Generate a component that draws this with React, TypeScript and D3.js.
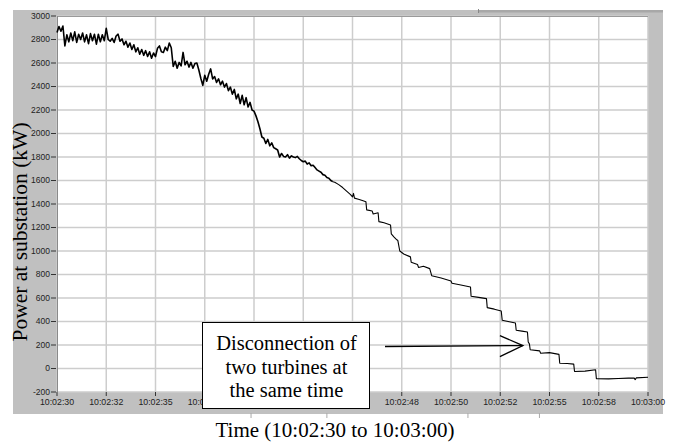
import React from "react";
import * as d3 from "d3";

// ---- Data ----
// Noisy first part: samples every 0.1 s from 10:02:30
const noisyIntervalSec = 0.1;
const noisyPowerKW = [
  2860, 2910, 2870, 2915, 2745, 2840, 2780, 2855, 2790, 2865,
  2775, 2845, 2800, 2855, 2780, 2840, 2765, 2850, 2790, 2845,
  2760, 2845, 2780, 2840, 2790, 2895, 2800, 2785, 2810, 2775,
  2830, 2845, 2785, 2805, 2755, 2785, 2735, 2770, 2715, 2755,
  2695, 2730, 2675, 2715, 2665, 2705, 2655, 2695, 2640, 2685,
  2655, 2725, 2745, 2695, 2690, 2735, 2705, 2770, 2730, 2570,
  2615, 2555, 2605, 2575, 2690, 2585, 2615, 2565, 2605, 2555,
  2595, 2600, 2540, 2470, 2410, 2495, 2445, 2505, 2550, 2465,
  2485, 2435, 2465, 2415, 2445, 2395, 2425, 2365, 2395, 2335,
  2375, 2295, 2335, 2255, 2325, 2245, 2305, 2225, 2265, 2200,
  2190, 2150, 2100, 2040, 1970, 1960, 1915, 1950, 1895, 1920,
  1880, 1870, 1860, 1800, 1830, 1805, 1800, 1820, 1790, 1810,
  1800, 1795, 1805, 1785, 1770, 1760, 1765, 1740, 1750, 1725,
  1730, 1710, 1690, 1680, 1670, 1650, 1645, 1625, 1620, 1600,
  1590,
];

// Stepped second part
const stepTimesSec = [
  14.1, 14.3, 14.5, 14.7, 14.9, 15.0, 15.05, 15.1, 15.3, 15.5, 15.68,
  15.72, 16.0, 16.05, 16.3, 16.34, 16.6, 16.93, 16.97, 17.1, 17.25,
  17.3, 17.4, 17.6, 17.94, 17.98, 18.3, 18.35, 18.6, 18.92, 19.02,
  19.5, 20.0, 20.05, 20.5, 20.99, 21.02, 21.4, 21.8, 21.84, 22.2,
  22.55, 22.6, 22.9, 23.27, 23.31, 23.6, 23.88, 23.92, 23.98, 24.02,
  24.5, 24.55, 25.0, 25.48, 25.52, 25.9, 26.23, 26.27, 26.8, 27.34,
  27.38, 28.0, 28.5, 29.0, 29.3, 29.35, 29.4, 30.0,
];
const stepPowerKW = [
  1585, 1565, 1540, 1510, 1480, 1460, 1490, 1450, 1440, 1430, 1420,
  1350, 1340, 1315, 1325, 1250, 1240, 1222, 1145, 1120, 1095,
  1090, 1000, 975, 950, 905, 885, 860, 870, 850, 790,
  770, 745, 725, 710, 694, 615, 605, 595, 518, 505,
  489, 410, 400, 387, 325, 318, 310, 225, 210, 160,
  150, 130, 135, 120, 45, 42, 37, -25, -22, -11,
  -87, -88, -85, -82, -82, -95, -80, -75,
];

// Axes
const xTickSeconds = [0, 2.5, 5, 7.5, 10, 12.5, 15, 17.5, 20, 22.5, 25, 27.5, 30];
const xTickLabels = [
  "10:02:30", "10:02:32", "10:02:35", "10:02:38", "10:02:40", "10:02:42",
  "10:02:45", "10:02:48", "10:02:50", "10:02:52", "10:02:55", "10:02:58", "10:03:00",
];
const yTickValues = [-200, 0, 200, 400, 600, 800, 1000, 1200, 1400, 1600, 1800, 2000, 2200, 2400, 2600, 2800, 3000];

const xTitle = "Time (10:02:30 to 10:03:00)";
const yTitle = "Power at substation (kW)";
const annotationLines = ["Disconnection of", "two turbines at", "the same time"];
const annotationTargetSec = 23.65;
const annotationTargetKW = 195;
const cursorMarkSeconds = [9.85, 13.7, 20.86, 24.49];

export default function App() {
  const W = 680, H = 443;
  const frame = { x: 13, y: 10, r: 663, b: 414 };
  const plot = { l: 57, t: 16, r: 648, b: 392 };

  const x = d3.scaleLinear().domain([0, 30]).range([plot.l, plot.r]);
  const y = d3.scaleLinear().domain([-200, 3000]).range([plot.b, plot.t]);

  const noisy: [number, number][] = noisyPowerKW.map((v, i) => [i * noisyIntervalSec, v]);
  const stepped: [number, number][] = [
    noisy[noisy.length - 1],
    ...stepTimesSec.map((t, i) => [t, stepPowerKW[i]] as [number, number]),
  ];
  const line = d3.line<[number, number]>().x((d) => x(d[0])).y((d) => y(d[1]));

  const tipX = x(annotationTargetSec);
  const tipY = y(annotationTargetKW);
  const boxL = 202, boxT = 322, boxR = 369, boxB = 408;
  const arrowStartX = 385, arrowStartY = 346.5;

  const sans = "'Liberation Sans', Arial, sans-serif";
  const serif = "'Liberation Serif', 'Times New Roman', serif";

  return (
    <svg width={W} height={H} style={{ position: "absolute", left: 0, top: 0, display: "block", background: "#fff" }}>
      {/* grey frame */}
      <rect x={frame.x} y={frame.y} width={frame.r - frame.x} height={frame.b - frame.y} fill="#c0c0c0" />
      <rect x={478} y={frame.y} width={frame.r - 478} height={2.5} fill="#a8a8a8" />
      <line x1={478.5} x2={478.5} y1={frame.y - 1} y2={frame.y + 3} stroke="#888" />
      {/* plot area */}
      <rect x={plot.l} y={plot.t} width={plot.r - plot.l} height={plot.b - plot.t} fill="#fff" />
      {/* grid */}
      {yTickValues.map((v) => (
        <line key={"gy" + v} x1={plot.l} x2={plot.r} y1={y(v)} y2={y(v)} stroke="#cdcdcd" strokeWidth={1.5} />
      ))}
      {xTickSeconds.map((t) => (
        <line key={"gx" + t} x1={x(t)} x2={x(t)} y1={plot.t} y2={plot.b} stroke="#cdcdcd" strokeWidth={1.5} />
      ))}
      <line x1={plot.l} x2={plot.r} y1={plot.t + 0.5} y2={plot.t + 0.5} stroke="#9a9a9a" />
      <line x1={plot.l + 0.5} x2={plot.l + 0.5} y1={plot.t} y2={plot.b} stroke="#8a8a8a" />
      {/* data */}
      <path d={line(noisy) || ""} fill="none" stroke="#000" strokeWidth={1.6} strokeLinejoin="round" />
      <path d={line(stepped) || ""} fill="none" stroke="#000" strokeWidth={1.1} strokeLinejoin="round" />
      {/* y ticks */}
      {yTickValues.map((v) => (
        <g key={"ty" + v}>
          <line x1={plot.l - 6} x2={plot.l - 1} y1={y(v)} y2={y(v)} stroke="#333" />
          <text x={plot.l - 7} y={y(v)} dy="0.35em" textAnchor="end" fontSize={8.5} fontFamily={sans} fill="#222">
            {v}
          </text>
        </g>
      ))}
      {/* x ticks (labels hidden behind the annotation box are not drawn) */}
      {xTickSeconds.map((t, i) => {
        const cx = x(t);
        const hidden = cx - 17 >= boxL && cx + 17 <= boxR + 4;
        return (
          <g key={"tx" + t}>
            <line x1={cx} x2={cx} y1={plot.b} y2={plot.b + 4} stroke="#333" />
            {!hidden && (
              <text x={cx} y={405} textAnchor="middle" fontSize={8.8} fontFamily={sans} fill="#222">
                {xTickLabels[i]}
              </text>
            )}
          </g>
        );
      })}
      {cursorMarkSeconds.map((t) => (
        <line key={"cm" + t} x1={x(t)} x2={x(t)} y1={frame.b - 1} y2={frame.b + 4} stroke="#aaa" />
      ))}
      {/* titles */}
      <text x={335} y={437} textAnchor="middle" fontSize={21} fontFamily={serif} fill="#000">
        {xTitle}
      </text>
      <text
        transform={`translate(27,232) rotate(-90)`}
        textAnchor="middle"
        fontSize={21.5}
        fontFamily={serif}
        fill="#000"
      >
        {yTitle}
      </text>
      {/* annotation */}
      <rect x={boxL + 0.5} y={boxT + 0.5} width={boxR - boxL} height={boxB - boxT} fill="#fff" stroke="#000" strokeWidth={1} />
      {annotationLines.map((s, i) => (
        <text key={s} x={(boxL + boxR) / 2 + 1} y={350 + i * 23.5} textAnchor="middle" fontSize={20.5} fontFamily={serif} fill="#000">
          {s}
        </text>
      ))}
      <line x1={arrowStartX} y1={arrowStartY} x2={tipX} y2={tipY} stroke="#000" strokeWidth={1.3} />
      <polyline
        points={`${tipX - 23},${tipY - 10} ${tipX},${tipY} ${tipX - 23},${tipY + 11}`}
        fill="none"
        stroke="#000"
        strokeWidth={1.3}
      />
    </svg>
  );
}
